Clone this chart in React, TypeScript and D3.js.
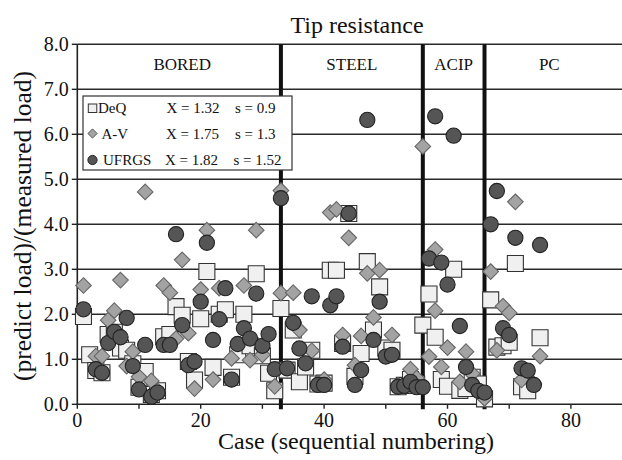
import React from "react";
import * as d3 from "d3";

const title = "Tip resistance";
const xLabel = "Case (sequential numbering)";
const yLabel = "(predict load)/(measured load)";

const groupNames = ["BORED", "STEEL", "ACIP", "PC"];
const groupCenters = [17, 44.5, 61, 76.5];
const separatorCases = [33, 56, 66];

const xTicks = [0, 10, 20, 30, 40, 50, 60, 70, 80];
const xTickLabels = [0, 20, 40, 60, 80];
const yTicks = [0, 1, 2, 3, 4, 5, 6, 7, 8];

const deqCases = [
  1, 2, 3, 4, 5, 6, 7, 8, 9, 10, 11, 12, 13, 14, 15, 16, 17, 18, 19, 20,
  21, 22, 23, 24, 25, 26, 27, 28, 29, 30, 31, 32, 33, 34, 35, 36, 37, 38, 39, 40,
  41, 42, 43, 44, 45, 46, 47, 48, 49, 50, 51, 52, 53, 54, 55, 56, 57, 58, 59, 60,
  61, 62, 63, 64, 65, 66, 67, 68, 69, 70, 71, 72, 73, 75,
];
const deqValues = [
  1.95, 1.1, 0.75, 0.7, 1.55, 1.6, 1.25, 1.2, 0.9, 0.38,
  0.73, 0.22, 0.3, 1.5, 1.55, 2.17, 1.98, 0.95, 0.54, 1.9,
  2.95, 0.82, 2.0, 2.1, 0.6, 1.1, 2.0, 1.3, 2.9, 1.08,
  0.69, 0.3, 2.13, 0.76, 1.65, 0.5, 0.83, 1.2, 0.45, 0.47,
  2.98, 2.98, 1.35, 4.24, 0.62, 1.13, 3.17, 1.65, 2.61, 1.25,
  1.2, 0.39, 0.42, 0.55, 0.45, 1.76, 2.45, 1.49, 0.55, 0.4,
  3.0, 0.31, 0.35, 0.6, 0.45, 0.12, 2.32, 1.27, 1.3, 1.38,
  3.13, 0.39, 0.3, 1.48,
];

const avCases = [
  1, 3, 4, 5, 6, 7, 8, 9, 10, 11, 12, 13, 14, 15, 16, 17, 18, 19, 20,
  21, 22, 23, 25, 27, 28, 29, 30, 32, 33, 33,
  35, 36, 38, 39, 40, 41, 42, 43, 44, 45, 46, 47, 48, 49, 51, 52, 53, 54, 55, 56,
  57, 58, 58, 59, 60, 62, 63, 64, 65, 66,
  67, 68, 69, 70, 71, 72, 74, 75,
];
const avValues = [
  2.64, 1.07, 1.07, 1.87, 2.08, 2.76, 0.85, 1.17, 0.61, 4.72, 0.52, 0.3, 2.64, 2.48, 1.46, 3.21, 1.58, 0.35, 2.55,
  3.87, 0.55, 2.58, 1.02, 2.64, 0.98, 3.87, 1.1, 0.4, 2.47, 4.75,
  2.48, 1.65, 1.19, 0.45, 0.55, 4.26, 4.33, 1.54, 3.7, 0.87, 1.52, 2.91, 1.93, 2.98, 1.54, 0.42, 0.42, 0.78, 0.58, 5.73,
  1.06, 3.44, 2.08, 0.83, 1.26, 0.5, 1.17, 0.68, 0.32, 0.13,
  2.95, 1.2, 2.18, 2.03, 4.5, 0.54, 0.45, 1.07,
];

const ufCases = [
  1, 3, 4, 5, 6, 7, 8, 9, 10, 11, 12, 13, 14, 15, 16, 17, 18, 19, 20,
  21, 22, 23, 24, 25, 26, 27, 28, 29, 30, 31, 32, 33,
  34, 35, 36, 37, 38, 39, 40, 41, 42, 43, 44, 45, 46, 47, 48, 49, 50, 51, 52, 53, 54, 55, 56,
  57, 58, 59, 60, 61, 62, 63, 64, 65, 66,
  67, 68, 69, 70, 71, 72, 73, 74, 75,
];
const ufValues = [
  2.11, 0.78, 0.7, 1.36, 1.61, 1.49, 1.92, 0.85, 0.33, 1.32, 0.17, 0.26, 1.32, 1.32, 3.78, 1.76, 0.87, 0.95, 2.28,
  3.59, 1.43, 1.89, 2.58, 0.55, 1.34, 1.69, 1.46, 2.46, 1.3, 1.56, 0.78, 4.58,
  0.8, 1.81, 1.24, 0.91, 2.4, 0.43, 0.43, 2.2, 2.4, 1.28, 4.24, 0.43, 0.76, 6.32, 1.43, 2.28, 1.06, 1.1, 0.39, 0.41, 0.5, 0.38, 0.38,
  3.24, 6.4, 3.15, 2.66, 5.97, 1.74, 0.83, 0.43, 0.3, 0.26,
  4.0, 4.74, 1.69, 1.54, 3.7, 0.8, 0.75, 0.43, 3.54,
];

const legendNames = ["DeQ", "A-V", "UFRGS"];
const legendMeans = ["X = 1.32", "X = 1.75", "X = 1.82"];
const legendSds = ["s = 0.9", "s = 1.3", "s = 1.52"];

const W = 622;
const H = 460;
const FONT = "'Liberation Serif', 'Times New Roman', serif";

export default function App() {
  const x = d3.scaleLinear().domain([0, 90]).range([77.3, 77.3 + 90 * 6.17]);
  const y = d3.scaleLinear().domain([0, 8]).range([404.3, 44.3]);
  const x0 = x(0);
  const sq = 16;
  const dr = 7.8;
  const cr = 7.6;

  const squareSym = d3.symbol().type(d3.symbolSquare).size(sq * sq);
  const diamondPath = (r: number) => `M0,${-r}L${r},0L0,${r}L${-r},0Z`;

  const deq = deqCases.map((c, i) => [c, deqValues[i]]);
  const av = avCases.map((c, i) => [c, avValues[i]]);
  const uf = ufCases.map((c, i) => [c, ufValues[i]]);

  const legendRows = [112.5, 138.5, 164.5];
  const nameX = [98, 101.5, 103];
  const meanX = [166.5, 166, 165];
  const sdX = [235, 235, 233.5];

  return (
    <div style={{ position: "fixed", left: 0, top: 0 }}>
      <svg width={W} height={H} style={{ display: "block", background: "#fff" }} fontFamily={FONT}>
        {/* gridlines */}
        {yTicks.filter((t) => t > 0).map((t) => (
          <line key={"g" + t} x1={x0} x2={W} y1={y(t)} y2={y(t)} stroke="#2a2a2a" strokeWidth={1.6} />
        ))}
        {/* axes */}
        <line x1={x0} x2={W} y1={y(0)} y2={y(0)} stroke="#222" strokeWidth={1.6} />
        <line x1={x0} x2={x0} y1={y(0)} y2={y(8)} stroke="#222" strokeWidth={1.6} />
        {yTicks.map((t) => (
          <g key={"yt" + t}>
            <line x1={x0 - 5.5} x2={x0} y1={y(t)} y2={y(t)} stroke="#222" strokeWidth={1.4} />
            <text x={68.8} y={y(t) + 6.6} fontSize={20} textAnchor="end" fill="#111">
              {t.toFixed(1)}
            </text>
          </g>
        ))}
        {xTicks.map((t) => (
          <line key={"xt" + t} x1={x(t)} x2={x(t)} y1={y(0)} y2={y(0) + 4.5} stroke="#222" strokeWidth={1.4} />
        ))}
        {xTickLabels.map((t) => (
          <text key={"xl" + t} x={x(t)} y={426.5} fontSize={20} textAnchor="middle" fill="#111">
            {t}
          </text>
        ))}
        {/* separators */}
        {separatorCases.map((c) => (
          <line key={"s" + c} x1={x(c)} x2={x(c)} y1={y(8)} y2={y(0) + 5} stroke="#111" strokeWidth={4} />
        ))}
        {/* group names */}
        {groupNames.map((g, i) => (
          <text key={g} x={x(groupCenters[i])} y={70} fontSize={17} textAnchor="middle" fill="#111">
            {g}
          </text>
        ))}
        {/* DeQ squares */}
        {deq.map(([c, v], i) => (
          <path
            key={"d" + i}
            d={squareSym() as string}
            transform={`translate(${x(c)},${y(v)})`}
            fill="#f0f0f0"
            stroke="#333"
            strokeWidth={1.1}
          />
        ))}
        {/* A-V diamonds */}
        {av.map(([c, v], i) => (
          <path
            key={"a" + i}
            d={diamondPath(dr)}
            transform={`translate(${x(c)},${y(v)})`}
            fill="#a3a3a3"
            stroke="#666"
            strokeWidth={1.1}
          />
        ))}
        {/* UFRGS circles */}
        {uf.map(([c, v], i) => (
          <circle key={"u" + i} cx={x(c)} cy={y(v)} r={cr} fill="#555" stroke="#222" strokeWidth={1.1} />
        ))}
        {/* legend */}
        <rect x={83} y={96} width={209} height={74} fill="#fff" stroke="#333" strokeWidth={1.2} />
        <rect x={88.3} y={104} width={8.5} height={8.5} fill="#f0f0f0" stroke="#333" strokeWidth={1} />
        <path d={diamondPath(4.6)} transform="translate(92.5,133.5)" fill="#a3a3a3" stroke="#555" strokeWidth={1} />
        <circle cx={92.5} cy={160} r={4.6} fill="#555" stroke="#222" strokeWidth={1} />
        {legendNames.map((n, i) => (
          <g key={n} fontSize={15} fill="#111">
            <text x={nameX[i]} y={legendRows[i]}>{n}</text>
            <text x={meanX[i]} y={legendRows[i]}>{legendMeans[i]}</text>
            <text x={sdX[i]} y={legendRows[i]}>{legendSds[i]}</text>
          </g>
        ))}
        {/* titles */}
        <text x={357} y={33} fontSize={24} textAnchor="middle" fill="#111">
          {title}
        </text>
        <text x={356} y={449} fontSize={24} textAnchor="middle" fill="#111">
          {xLabel}
        </text>
        <text
          transform={`translate(31,226) rotate(-90)`}
          fontSize={25.5}
          textAnchor="middle"
          fill="#111"
        >
          {yLabel}
        </text>
      </svg>
    </div>
  );
}
